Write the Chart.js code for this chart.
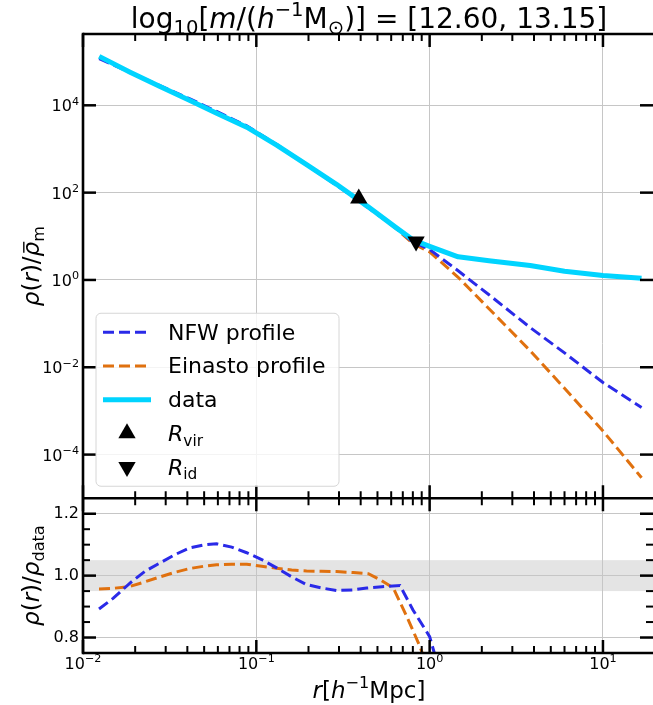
<!DOCTYPE html>
<html>
<head>
<meta charset="utf-8">
<script src="https://cdn.jsdelivr.net/npm/chart.js@4.4.1/dist/chart.umd.min.js"></script>
<style>
  html, body { margin: 0; padding: 0; background: #fff; }
  #profChart { display: block; }
</style>
</head>
<body>
<canvas id="profChart" width="653" height="705" style="width:653px;height:705px"></canvas>
<script>
// radius in h^-1 Mpc, densities in units of mean matter density
const radius = [0.0124, 0.0187, 0.0278, 0.0414, 0.059, 0.088, 0.131, 0.195, 0.29, 0.44, 0.64, 0.80, 1.0, 1.46, 2.2, 3.8, 6.0, 10, 16.7];
const rhoData = [1.32e5, 5.75e4, 2.69e4, 1.29e4, 6.6e3, 3.16e3, 1.23e3, 437, 155, 47.9, 15.8, 8.3, 5.9, 3.39, 2.75, 2.14, 1.58, 1.26, 1.10];
const rhoNfw = [1.17e5, 5.62e4, 2.82e4, 1.41e4, 7.24e3, 3.39e3, 1.26e3, 427, 148, 45.7, 15.5, 7.4, 5.0, 1.62, 0.457, 0.0813, 0.0214, 4.47e-3, 1.2e-3];
const rhoEinasto = [1.26e5, 5.62e4, 2.69e4, 1.32e4, 6.92e3, 3.31e3, 1.26e3, 447, 158, 47.9, 15.1, 6.8, 4.4, 1.15, 0.219, 0.024, 3.3e-3, 3.47e-4, 2.95e-5];

// lower panel: profile / data
const ratioRadiusNfw = [0.01237, 0.01496, 0.01866, 0.0228, 0.0278, 0.034, 0.0414, 0.0494, 0.059, 0.0721, 0.088, 0.1074,
    0.131, 0.160, 0.195, 0.238, 0.291, 0.363, 0.434, 0.53, 0.674, 0.80, 1.0, 1.46];
const ratioNfw = [0.892, 0.927, 0.976, 1.014, 1.041, 1.068, 1.090, 1.099, 1.103, 1.092, 1.074, 1.052,
    1.025, 0.996, 0.971, 0.960, 0.952, 0.954, 0.960, 0.964, 0.968, 0.890, 0.803, 0.48];
const ratioRadiusEinasto = [0.01237, 0.01496, 0.01866, 0.0228, 0.0278, 0.034, 0.0414, 0.0494, 0.059, 0.0721, 0.088, 0.1074,
    0.131, 0.160, 0.195, 0.238, 0.291, 0.363, 0.443, 0.518, 0.617, 0.738, 0.881, 1.0, 1.46];
const ratioEinasto = [0.957, 0.959, 0.965, 0.980, 0.996, 1.011, 1.023, 1.030, 1.035, 1.037, 1.037, 1.030,
    1.024, 1.018, 1.015, 1.014, 1.013, 1.010, 1.006, 0.987, 0.960, 0.868, 0.770, 0.68, 0.34];

const rVir = [0.39], rhoVir = [73];
const rId = [0.835], rhoId = [7.6];

const densityTicks = [1e-4, 1e-2, 1, 1e2, 1e4];
const ratioTicks = [0.8, 0.85, 0.9, 0.95, 1.0, 1.05, 1.1, 1.15, 1.2];
const ratioLabels = [0.8, 1.0, 1.2];
const band = [0.95, 1.05];

const radiusTicks = [];
for (let e = -2; e <= 1; e++) {
    for (let k = 1; k <= 9; k++) {
        const v = +(k * Math.pow(10, e)).toPrecision(3);
        if (v <= 19.44) radiusTicks.push(v);
    }
}

const nfwColor = '#2a2ae8';
const einColor = '#e0710f';
const dataColor = '#00d4ff';
const gridColor = '#c6c6c6';
const FONT = '"DejaVu Sans"';

const isPow10 = v => Math.abs(Math.log10(v) - Math.round(Math.log10(v))) < 1e-6;
const powParts = v => {
    const e = Math.round(Math.log10(v));
    return [{t: '10'}, {t: String(e).replace('-', '\u2212'), s: 'sup'}];
};
const pts = (xs, ys) => xs.map((x, i) => ({x: x, y: ys[i]}));

// text with italic / sub / sup pieces
function drawRich(ctx, parts, x0, y0, size, align) {
    let w = 0;
    const items = parts.map(p => {
        const s = p.s ? size * 0.7 : size;
        const font = (p.i ? 'italic ' : '') + s + 'px ' + FONT;
        ctx.font = font;
        const wd = ctx.measureText(p.t).width;
        const dy = p.s === 'sup' ? -0.42 * size : (p.s === 'sub' ? 0.22 * size : 0);
        w += wd;
        return {p, font, wd, dy};
    });
    let x = align === 'center' ? x0 - w / 2 : (align === 'right' ? x0 - w : x0);
    ctx.textAlign = 'left';
    ctx.textBaseline = 'alphabetic';
    ctx.fillStyle = '#000';
    items.forEach(it => {
        ctx.font = it.font;
        ctx.fillText(it.p.t, x, y0 + it.dy);
        if (it.p.bar) {
            ctx.save();
            ctx.strokeStyle = '#000';
            ctx.lineWidth = size * 0.06;
            ctx.beginPath();
            ctx.moveTo(x + it.wd * 0.25, y0 - size * 0.66);
            ctx.lineTo(x + it.wd * 1.0, y0 - size * 0.66);
            ctx.stroke();
            ctx.restore();
        }
        x += it.wd;
    });
}

function triangle(ctx, x, y, r, down) {
    const s = down ? -1 : 1;
    ctx.beginPath();
    ctx.moveTo(x, y - s * r);
    ctx.lineTo(x + r * 0.866, y + s * r * 0.5);
    ctx.lineTo(x - r * 0.866, y + s * r * 0.5);
    ctx.closePath();
    ctx.fill();
}

const legendRows = [
    {color: nfwColor, dash: [11, 5], width: 3, parts: [{t: 'NFW profile'}]},
    {color: einColor, dash: [11, 5], width: 3, parts: [{t: 'Einasto profile'}]},
    {color: dataColor, dash: [], width: 5, parts: [{t: 'data'}]},
    {tri: 'up', parts: [{t: 'R', i: 1}, {t: 'vir', s: 'sub'}]},
    {tri: 'down', parts: [{t: 'R', i: 1}, {t: 'id', s: 'sub'}]}
];

const panelPlugin = {
    id: 'panels',
    beforeDraw(chart) {
        const {ctx, chartArea: a} = chart;
        const yr = chart.scales.yr;
        ctx.save();
        ctx.fillStyle = '#fff';
        ctx.fillRect(0, 0, chart.width, chart.height);
        ctx.fillStyle = '#e4e4e4';
        const y1 = yr.getPixelForValue(band[1]), y0 = yr.getPixelForValue(band[0]);
        ctx.fillRect(a.left, y1, a.right - a.left, y0 - y1);
        ctx.restore();
    },
    afterDatasetsDraw(chart) {
        const {ctx, chartArea: a} = chart;
        const xs = chart.scales.x, yd = chart.scales.yd, yr = chart.scales.yr;
        ctx.save();
        ctx.strokeStyle = '#000';
        ctx.lineCap = 'butt';
        const seg = (x1, y1, x2, y2) => { ctx.beginPath(); ctx.moveTo(x1, y1); ctx.lineTo(x2, y2); ctx.stroke(); };

        // x ticks, pointing into both panels
        const edges = [[yd.top, 1], [yd.bottom, -1], [yr.top, 1], [yr.bottom, -1]];
        xs.ticks.forEach(t => {
            const major = isPow10(t.value);
            const px = xs.getPixelForValue(t.value);
            ctx.lineWidth = major ? 2.5 : 2;
            const len = major ? 13 : 7;
            edges.forEach(([ey, dir]) => seg(px, ey, px, ey + dir * len));
        });
        // y ticks, left and right
        ctx.lineWidth = 2.5;
        yd.ticks.forEach(t => {
            const py = yd.getPixelForValue(t.value);
            seg(a.left, py, a.left + 13, py);
            seg(a.right, py, a.right - 13, py);
        });
        yr.ticks.forEach(t => {
            const major = ratioLabels.some(v => Math.abs(v - t.value) < 1e-6);
            const py = yr.getPixelForValue(t.value);
            const len = major ? 13 : 7;
            ctx.lineWidth = major ? 2.5 : 2;
            seg(a.left, py, a.left + len, py);
            seg(a.right, py, a.right - len, py);
        });

        // spines (the right one falls just outside the picture)
        ctx.lineWidth = 2.6;
        seg(a.left, yd.top, a.right, yd.top);
        seg(a.left, yd.bottom, a.right, yd.bottom);
        seg(a.left, yr.bottom, a.right, yr.bottom);
        seg(a.left, yd.top - 1.3, a.left, yr.bottom + 1.3);

        // legend
        const bx = a.left + 13, bw = 243, bh = 173, by = yd.bottom - 12 - bh;
        ctx.beginPath();
        ctx.roundRect(bx, by, bw, bh, 5);
        ctx.fillStyle = 'rgba(255,255,255,0.8)';
        ctx.fill();
        ctx.lineWidth = 1;
        ctx.strokeStyle = '#d6d6d6';
        ctx.stroke();
        legendRows.forEach((row, i) => {
            const cy = by + 19 + i * 33.7;
            if (row.tri) {
                ctx.fillStyle = '#000';
                triangle(ctx, bx + 31, cy, 10, row.tri === 'down');
            } else {
                ctx.save();
                ctx.strokeStyle = row.color;
                ctx.lineWidth = row.width;
                ctx.setLineDash(row.dash);
                seg(bx + 7, cy, bx + 55, cy);
                ctx.restore();
            }
            drawRich(ctx, row.parts, bx + 72, cy + 7.5, 22, 'left');
        });
        ctx.restore();
    },
    afterDraw(chart) {
        const {ctx, chartArea: a} = chart;
        const xs = chart.scales.x, yd = chart.scales.yd, yr = chart.scales.yr;
        const cx = (a.left + a.right) / 2 + 1;
        ctx.save();
        // power-of-ten tick labels
        xs.ticks.forEach(t => {
            if (isPow10(t.value)) drawRich(ctx, powParts(t.value), xs.getPixelForValue(t.value), a.bottom + 16, 16, 'center');
        });
        yd.ticks.forEach(t => {
            drawRich(ctx, powParts(t.value), a.left - 4, yd.getPixelForValue(t.value) + 6, 16, 'right');
        });

        drawRich(ctx, [{t: 'log'}, {t: '10', s: 'sub'}, {t: '['}, {t: 'm', i: 1}, {t: '/('}, {t: 'h', i: 1},
            {t: '\u22121', s: 'sup'}, {t: 'M'}, {t: '\u2299', s: 'sub'}, {t: ')] = [12.60, 13.15]'}], cx, 28, 28, 'center');
        drawRich(ctx, [{t: 'r', i: 1}, {t: '['}, {t: 'h', i: 1}, {t: '\u22121', s: 'sup'}, {t: 'Mpc]'}], cx, 698, 23, 'center');

        ctx.save();
        ctx.translate(39, (yd.top + yd.bottom) / 2);
        ctx.rotate(-Math.PI / 2);
        drawRich(ctx, [{t: '\u03c1', i: 1}, {t: '('}, {t: 'r', i: 1}, {t: ')/'}, {t: '\u03c1', i: 1, bar: 1}, {t: 'm', s: 'sub'}], 0, 0, 23, 'center');
        ctx.restore();

        ctx.save();
        ctx.translate(39, (yr.top + yr.bottom) / 2);
        ctx.rotate(-Math.PI / 2);
        drawRich(ctx, [{t: '\u03c1', i: 1}, {t: '('}, {t: 'r', i: 1}, {t: ')/'}, {t: '\u03c1', i: 1}, {t: 'data', s: 'sub'}], 0, 0, 23, 'center');
        ctx.restore();
        ctx.restore();
    }
};

const tickFont = {family: 'DejaVu Sans', size: 16};
const noPad = s => { s.paddingLeft = 0; s.paddingRight = 0; s.paddingTop = 0; s.paddingBottom = 0; };

new Chart(document.getElementById('profChart'), {
    type: 'line',
    data: {
        datasets: [
            {
                label: 'R_vir', data: pts(rVir, rhoVir), yAxisID: 'yd', showLine: false,
                pointStyle: 'triangle', pointRadius: 10, pointBackgroundColor: '#000', pointBorderWidth: 0, order: 0
            },
            {
                label: 'R_id', data: pts(rId, rhoId), yAxisID: 'yd', showLine: false,
                pointStyle: 'triangle', pointRotation: 180, pointRadius: 10, pointBackgroundColor: '#000', pointBorderWidth: 0, order: 0
            },
            {
                label: 'data', data: pts(radius, rhoData), yAxisID: 'yd',
                borderColor: dataColor, borderWidth: 5, borderJoinStyle: 'round', pointRadius: 0, order: 1
            },
            {
                label: 'NFW profile', data: pts(radius, rhoNfw), yAxisID: 'yd',
                borderColor: nfwColor, borderWidth: 3, borderDash: [11, 5], pointRadius: 0, order: 2
            },
            {
                label: 'Einasto profile', data: pts(radius, rhoEinasto), yAxisID: 'yd',
                borderColor: einColor, borderWidth: 3, borderDash: [11, 5], pointRadius: 0, order: 3
            },
            {
                label: 'NFW / data', data: pts(ratioRadiusNfw, ratioNfw), yAxisID: 'yr',
                borderColor: nfwColor, borderWidth: 3, borderDash: [11, 5], pointRadius: 0, clip: 0, order: 4
            },
            {
                label: 'Einasto / data', data: pts(ratioRadiusEinasto, ratioEinasto), yAxisID: 'yr',
                borderColor: einColor, borderWidth: 3, borderDash: [11, 5], pointRadius: 0, clip: 0, order: 5
            }
        ]
    },
    options: {
        responsive: false,
        animation: false,
        devicePixelRatio: 1,
        events: [],
        layout: {autoPadding: false, padding: {top: 34, right: 0, bottom: 0, left: 0}},
        plugins: {
            legend: {display: false},
            tooltip: {enabled: false}
        },
        scales: {
            x: {
                type: 'logarithmic',
                position: 'bottom',
                min: 0.01,
                max: 19.44,
                afterBuildTicks: s => { s.ticks = radiusTicks.map(v => ({value: v})); },
                afterFit: s => { s.height = 52; noPad(s); },
                ticks: {display: false, autoSkip: false},
                grid: {
                    drawTicks: false, lineWidth: 1,
                    color: c => (c.tick && isPow10(c.tick.value)) ? gridColor : 'rgba(0,0,0,0)'
                },
                border: {display: false}
            },
            yd: {
                type: 'logarithmic',
                position: 'left',
                stack: 'panels',
                stackWeight: 3,
                weight: 2,
                min: 1e-5,
                max: 4.3e5,
                afterBuildTicks: s => { s.ticks = densityTicks.map(v => ({value: v})); },
                afterFit: s => { s.width = 83; noPad(s); },
                ticks: {display: false, autoSkip: false},
                grid: {drawTicks: false, lineWidth: 1, color: gridColor},
                border: {display: false}
            },
            yr: {
                type: 'linear',
                position: 'left',
                stack: 'panels',
                stackWeight: 1,
                weight: 1,
                min: 0.75,
                max: 1.25,
                afterBuildTicks: s => { s.ticks = ratioTicks.map(v => ({value: v})); },
                afterFit: s => { s.width = 83; noPad(s); },
                ticks: {
                    autoSkip: false, padding: 4, font: tickFont, color: '#000',
                    callback: v => ratioLabels.some(m => Math.abs(m - v) < 1e-6) ? v.toFixed(1) : ''
                },
                grid: {
                    drawTicks: false, lineWidth: 1,
                    color: c => (c.tick && ratioLabels.some(m => Math.abs(m - c.tick.value) < 1e-6)) ? gridColor : 'rgba(0,0,0,0)'
                },
                border: {display: false}
            }
        }
    },
    plugins: [panelPlugin]
});
</script>
</body>
</html>
